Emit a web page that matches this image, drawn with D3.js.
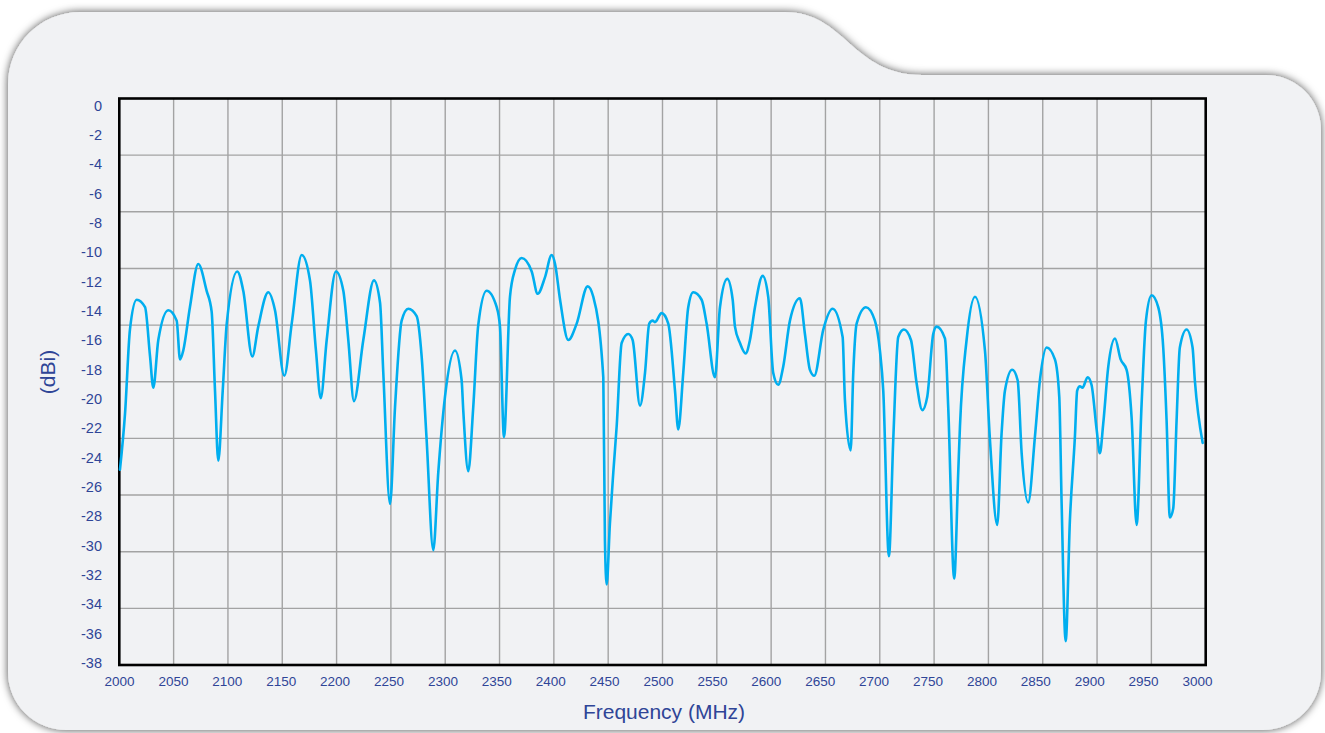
<!DOCTYPE html>
<html>
<head>
<meta charset="utf-8">
<script src="https://cdn.jsdelivr.net/npm/d3@7"></script>
<style>
  html, body { margin: 0; padding: 0; background: #ffffff; }
  svg { display: block; }
  text { font-family: "Liberation Sans", Arial, Helvetica, sans-serif; }
</style>
</head>
<body>
<svg id="chart" width="1325" height="733"></svg>
<script>
// ---- data ----
const freq = [
  2000.6,2005.3,2009.8,2016,2023.7,2028.3,2031.3,2035.9,2045.1,2052.8,2055.9,2058.9,2065,2072.7,2080.4,2085,
  2088.1,2091.1,2095.2,2098.9,2108.6,2114.1,2122.4,2127.9,2137.1,2143.3,2151.9,2158.7,2167.9,2175.5,2181,2185.4,
  2190.9,2199.4,2206.2,2210.8,2216,2224.6,2234.4,2240,2243,2249.2,2253.8,2259.9,2266,2273.7,2278.3,2282.9,
  2289,2293.6,2299.8,2309,2315.1,2316.6,2321.2,2325.8,2330.4,2338.1,2347.4,2350.4,2354.1,2359.6,2364.2,2370.4,
  2379.6,2385.1,2391.8,2398,2401.1,2405.7,2413.3,2421,2431.1,2436.3,2445.5,2447,2448.6,2451.6,2454.7,2457.8,
  2462.4,2468.5,2472.5,2479.3,2483.9,2487.8,2490.9,2493,2499.2,2505.3,2511.5,2514.5,2519.1,2523.7,2528.3,2536,
  2540.6,2548.3,2552.9,2559.6,2564.6,2566.7,2571.3,2576.5,2580.5,2585.1,2592.2,2597.3,2601.9,2606.5,2611.1,2617.3,
  2626.5,2631.1,2635.7,2639.7,2648,2656.6,2665.8,2667.9,2673.2,2675.6,2678.7,2687.3,2695.5,2700.1,2703.2,2708.4,
  2712.4,2717,2722.2,2728.7,2733.9,2739.1,2743.7,2749.2,2752.3,2760,2763,2768.5,2772.2,2773.8,2779.9,2787.6,
  2796.8,2801.4,2808.1,2812.1,2815.2,2821.9,2826.9,2830.6,2836.6,2842.8,2847.4,2853.6,2861.2,2865.2,2867.4,2871.1,
  2875,2879.6,2881.7,2884.2,2886.6,2891.3,2894.9,2899.6,2902.6,2905.7,2910.3,2916.5,2921.7,2927.2,2931.8,2936.4,
  2941,2945,2950.2,2956.3,2960.9,2964,2967,2970.1,2973.2,2976.2,2982.4,2987.9,2990,2997.2
];
const gain = [
  -24.9,-21.1,-15.5,-13.5,-14.0,-17.3,-19.4,-16.2,-14.2,-14.9,-17.5,-16.9,-14.0,-11.1,-12.9,-14.3,
  -19.6,-24.3,-19.6,-15.1,-11.6,-12.9,-17.3,-15.3,-13.0,-14.2,-18.6,-15.1,-10.5,-12.2,-16.9,-20.1,
  -16.2,-11.6,-12.9,-16.2,-20.3,-16.2,-12.2,-13.7,-18.4,-27.2,-20.7,-14.9,-14.1,-14.6,-17.3,-22.9,
  -30.3,-25.1,-20.0,-16.9,-18.9,-20.9,-25.0,-20.7,-15.2,-12.9,-14.0,-15.3,-22.7,-13.3,-11.5,-10.7,
  -11.6,-13.1,-12.0,-10.5,-11.1,-13.5,-16.2,-15.1,-12.6,-13.3,-18.7,-29.6,-32.6,-28.5,-25.1,-22.0,
  -16.4,-15.8,-16.2,-20.6,-18.4,-15.1,-14.9,-15.0,-14.4,-15.1,-19.6,-22.2,-18.4,-14.0,-13.0,-13.5,
  -15.1,-18.7,-14.0,-12.1,-13.5,-15.3,-16.4,-17.1,-16.2,-14.0,-11.9,-13.3,-18.4,-19.2,-18.0,-14.9,
  -13.4,-15.8,-18.2,-18.6,-15.5,-14.1,-16.0,-20.2,-23.6,-18.4,-15.1,-14.0,-14.9,-16.9,-19.6,-30.7,
  -22.9,-16.0,-15.5,-16.2,-19.1,-20.9,-20.0,-15.8,-15.3,-16.1,-20.7,-32.2,-25.1,-22.0,-16.2,-13.3,
  -16.9,-22.9,-28.6,-22.5,-19.6,-18.2,-18.9,-23.8,-27.1,-22.7,-18.9,-16.7,-17.5,-20.0,-27.2,-36.4,
  -28.3,-22.7,-19.6,-19.3,-19.4,-18.7,-19.2,-22.2,-23.8,-21.8,-18.0,-16.1,-17.5,-18.2,-21.4,-28.6,
  -20.5,-14.9,-13.2,-14.0,-16.7,-21.6,-28.1,-27.5,-21.6,-16.7,-15.5,-16.7,-18.9,-23.1
];
const xTicks = [2000,2050,2100,2150,2200,2250,2300,2350,2400,2450,2500,2550,2600,2650,2700,2750,2800,2850,2900,2950,3000];
const yTicks = [0,-2,-4,-6,-8,-10,-12,-14,-16,-18,-20,-22,-24,-26,-28,-30,-32,-34,-36,-38];
const xTitle = "Frequency (MHz)";
const yTitle = "(dBi)";

// ---- layout ----
const svg = d3.select("#chart");
const L = 119.3, R = 1205.7, T = 98.5, B = 665;
const x = d3.scaleLinear().domain([2000, 3000]).range([L, R]);
const y = d3.scaleLinear().domain([0, -38]).range([T, B]);
// tick labels in the reference are spaced slightly differently from the grid
const xLab = d3.scaleLinear().domain([2000, 3000]).range([119, 1197]);
const yLab = d3.scaleLinear().domain([0, -38]).range([110, 667.5]);

const textColor = "#2f4597";

// card background with shadow
const defs = svg.append("defs");
const f = defs.append("filter").attr("id", "shadow")
  .attr("x", "-5%").attr("y", "-5%").attr("width", "110%").attr("height", "110%");
f.append("feDropShadow").attr("dx", 0).attr("dy", 0).attr("stdDeviation", 4.5)
  .attr("flood-color", "#000").attr("flood-opacity", 0.7);

const cardPath = [
  "M 8,84",
  "A 72 72 0 0 1 80,12",
  "L 785,12",
  "C 845,12 852,75 922,75",
  "L 1266,75",
  "A 55 55 0 0 1 1321,130",
  "L 1321,672",
  "A 58 58 0 0 1 1263,730",
  "L 66,730",
  "A 58 58 0 0 1 8,672",
  "Z"
].join(" ");
svg.append("path").attr("d", cardPath).attr("fill", "#f1f2f4").attr("filter", "url(#shadow)");

// grid
const g = svg.append("g");
g.selectAll(".vgrid").data(xTicks.slice(1, -1)).join("line")
  .attr("x1", d => x(d)).attr("x2", d => x(d))
  .attr("y1", T).attr("y2", B)
  .attr("stroke", "#a3a3a3").attr("stroke-width", 1.4);
const yGrid = d3.range(1, 10).map(i => y.domain()[1] * i / 10);
g.selectAll(".hgrid").data(yGrid).join("line")
  .attr("x1", L).attr("x2", R)
  .attr("y1", d => y(d)).attr("y2", d => y(d))
  .attr("stroke", "#a3a3a3").attr("stroke-width", 1.4);

// frame
svg.append("rect").attr("x", L).attr("y", T).attr("width", R - L).attr("height", B - T)
  .attr("fill", "none").attr("stroke", "#000").attr("stroke-width", 2.6);

// data line
const pts = freq.map((fv, i) => [fv, gain[i]]);
const line = d3.line().x(d => x(d[0])).y(d => y(d[1])).curve(d3.curveMonotoneX);
svg.append("path").datum(pts).attr("d", line)
  .attr("fill", "none").attr("stroke", "#00aeef").attr("stroke-width", 2.6)
  .attr("stroke-linejoin", "round").attr("stroke-linecap", "round");

// axes (labels only)
const yAxis = svg.append("g").attr("transform", "translate(102,0)")
  .call(d3.axisLeft(yLab).tickValues(yTicks).tickSize(0).tickPadding(0).tickFormat(d => d));
yAxis.select(".domain").remove();
yAxis.selectAll("text").attr("dy", 0).attr("x", 0).attr("text-anchor", "end")
  .attr("fill", textColor).style("font-size", "14.5px").style("font-family", '"Liberation Sans", Arial, sans-serif');

const xAxis = svg.append("g").attr("transform", "translate(0,686)")
  .call(d3.axisBottom(xLab).tickValues(xTicks).tickSize(0).tickPadding(0).tickFormat(d => d));
xAxis.select(".domain").remove();
xAxis.selectAll("text").attr("dy", 0).attr("y", 0).attr("text-anchor", "middle")
  .attr("fill", textColor).style("font-size", "13.5px").style("font-family", '"Liberation Sans", Arial, sans-serif');

// titles
svg.append("text").attr("x", 664).attr("y", 718.5).attr("text-anchor", "middle")
  .attr("fill", textColor).style("font-size", "21px").text(xTitle);
svg.append("text").attr("transform", "translate(55,372) rotate(-90)").attr("text-anchor", "middle")
  .attr("fill", textColor).style("font-size", "21px").text(yTitle);
</script>
</body>
</html>
